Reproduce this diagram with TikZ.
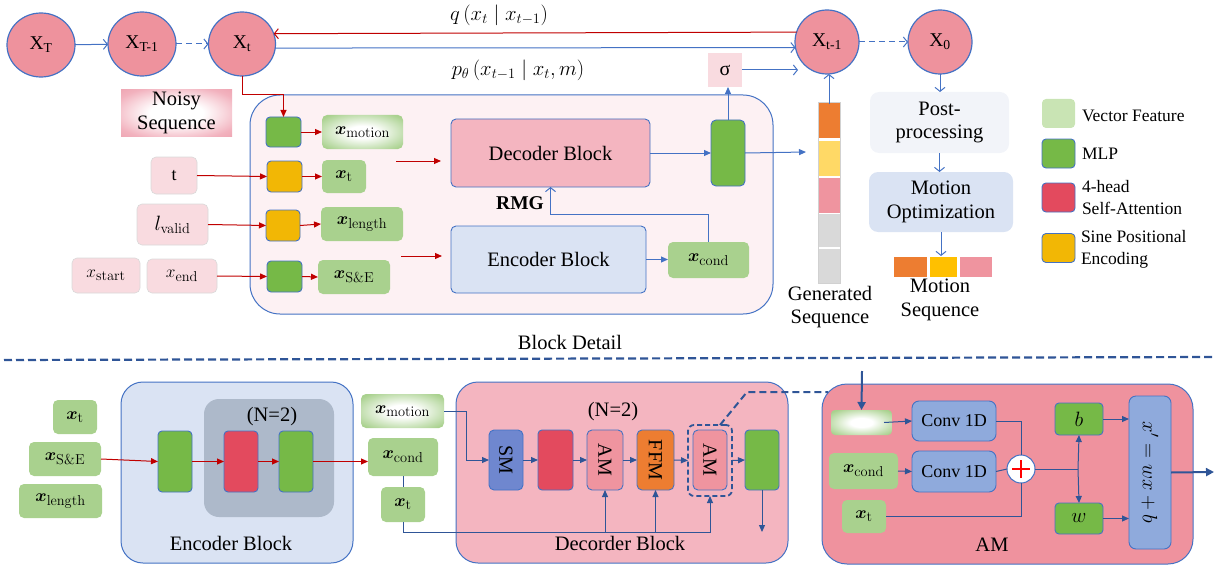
\documentclass[tikz,border=0pt]{standalone}
\usepackage{amsmath}
\usepackage[no-math]{fontspec}
\setmainfont{Liberation Serif}
\usetikzlibrary{arrows.meta,shapes.geometric,calc}
\newcommand\fsz[2]{\fontsize{#1}{#2}\selectfont}
\DeclareMathSizes{18}{18}{14}{11}
\DeclareMathSizes{20}{20}{14.5}{11}
\definecolor{bord}{HTML}{4472C4}
\definecolor{dblue}{HTML}{2F5597}
\definecolor{redc}{HTML}{C00000}
\definecolor{circpink}{HTML}{EE929D}
\definecolor{lpink}{HTML}{F9DBE0}
\definecolor{rmgfill}{HTML}{FDF1F3}
\definecolor{decfill}{HTML}{F4B5C0}
\definecolor{encfill}{HTML}{DAE3F3}
\definecolor{featg}{HTML}{A9D18E}
\definecolor{legg}{HTML}{C9E4B4}
\definecolor{mlpg}{HTML}{76B947}
\definecolor{speY}{HTML}{F2B705}
\definecolor{saR}{HTML}{E34A5E}
\definecolor{orng}{HTML}{ED7D31}
\definecolor{gyel}{HTML}{FFD966}
\definecolor{myel}{HTML}{FFC000}
\definecolor{gpink}{HTML}{EF949F}
\definecolor{ggray}{HTML}{D9D9D9}
\definecolor{convb}{HTML}{8FAADC}
\definecolor{smb}{HTML}{6F87CF}
\definecolor{innerenc}{HTML}{ADB9CA}
\definecolor{amfill}{HTML}{EF929E}
\definecolor{postfill}{HTML}{F2F4F9}
\pgfdeclareradialshading{noisyshade}{\pgfpoint{0bp}{0bp}}{color(0bp)=(white); color(12bp)=(white); color(30bp)=(rgb,255:red,242;green,178;blue,190); color(50bp)=(rgb,255:red,231;green,140;blue,156); color(70bp)=(rgb,255:red,228;green,134;blue,150)}
\pgfdeclareradialshading{featshade}{\pgfpoint{0bp}{0bp}}{color(0bp)=(white); color(9bp)=(white); color(32bp)=(rgb,255:red,169;green,209;blue,142); color(70bp)=(rgb,255:red,169;green,209;blue,142)}
\tikzset{
 sz/.style 2 args={minimum width=#1pt, minimum height=#2pt},
 circ/.style={ellipse, draw=bord, fill=circpink, line width=1.2pt, font=\fsz{19.5}{22}},
 pinkbox/.style={rounded corners=5pt, draw=black!15, fill=lpink, line width=0.6pt, font=\fsz{18}{21}},
 feat/.style={rounded corners=5pt, fill=featg, font=\fsz{18}{21}},
 featsh/.style={rounded corners=5pt, shading=featshade, font=\fsz{18}{21}},
 mlp/.style={rounded corners=4pt, fill=mlpg, draw=bord, line width=0.9pt},
 spe/.style={rounded corners=4pt, fill=speY, draw=bord, line width=0.9pt},
 sa/.style={rounded corners=4pt, fill=saR, draw=bord, line width=0.9pt},
 blk/.style={rounded corners=5pt, draw=bord, line width=0.9pt, font=\fsz{20.5}{23}},
 bigbox/.style={rounded corners=#1, draw=bord, line width=1pt},
 lbl/.style={font=\fsz{20.5}{23.5}, align=center},
 ddash/.style={dash pattern=on 6pt off 4pt},
 oarrow/.style={draw=bord, line width=1pt, -{Straight Barb[length=4pt,width=10pt]}},
 farrow/.style={draw=bord, line width=1pt, -{Triangle[length=7pt,width=6pt]}},
 rarrow/.style={draw=redc, line width=1pt, -{Triangle[length=7pt,width=6pt]}},
 darrow/.style={draw=dblue, line width=1pt, -{Triangle[length=7pt,width=6pt]}},
 tarrow/.style={draw=dblue, line width=2pt, -{Triangle[length=8pt,width=8pt]}},
 seg/.style={draw=white, line width=0.8pt},
}
\begin{document}
\begin{tikzpicture}[x=1pt,y=-1pt, every node/.style={inner sep=0pt, outer sep=0pt}]
\useasboundingbox (0,0) rectangle (1217,567);

% ---------------- top diffusion chain ----------------
\node[circ,sz={68}{64}] (XT) at (41,45) {X\textsubscript{T}};
\node[circ,sz={68}{64}] (XT1) at (142,44) {X\textsubscript{T-1}};
\node[circ,sz={67}{64}] (Xt) at (242,44) {X\textsubscript{t}};
\node[circ,sz={64}{64}] (Xt1) at (827,42) {X\textsubscript{t-1}};
\node[circ,sz={64}{64}] (X0) at (940,42) {X\textsubscript{0}};
\draw[oarrow] (XT) -- (XT1);
\draw[oarrow, ddash] (XT1) -- (Xt);
\draw[oarrow, draw=redc] (Xt1.162) -- (Xt.18);
\draw[oarrow] (Xt.-7) -- (Xt1.-170);
\draw[oarrow, ddash] (Xt1) -- (X0);
\node[font=\fsz{21}{24}] (qlab) at (499,15) {$q\left(x_t \mid x_{t-1}\right)$};
\node[font=\fsz{21}{24}] (plab) at (518,70) {$p_\theta\left(x_{t-1} \mid x_t, m\right)$};

\node[fill=lpink, sz={34}{34}, font=\fsz{20}{23}] (sigma) at (725,70) {σ};
\coordinate (sigtip) at (798,70);
\draw[oarrow] (sigma.east) -- (sigtip);

\node[shading=noisyshade, sz={111}{46}, lbl] (noisy) at (176.5,113) {Noisy\\Sequence};

% ---------------- RMG block ----------------
\node[bigbox=30pt, fill=rmgfill, sz={523}{219}] (rmg) at (511.5,204.5) {};

\node[mlp, sz={35}{30}] (m1) at (283.5,132) {};
\node[featsh, sz={81}{34}] (fm) at (362.5,132) {$\boldsymbol{x}_{\mathrm{motion}}$};
\node[spe, sz={35}{31}] (y1) at (284.5,176.5) {};
\node[feat, sz={44}{33}] (ft) at (344,176.5) {$\boldsymbol{x}_{\mathrm{t}}$};
\node[spe, sz={34}{31}] (y2) at (283,225.5) {};
\node[feat, sz={82}{34}] (fl) at (362,224) {$\boldsymbol{x}_{\mathrm{length}}$};
\node[mlp, sz={35}{31}] (m2) at (284.5,276.5) {};
\node[feat, sz={72}{34}] (fse) at (354,277) {$\boldsymbol{x}_{\mathrm{S\&E}}$};

\node[pinkbox, sz={46}{37}] (tin) at (174,175.5) {t};
\node[pinkbox, sz={71}{41}, font=\fsz{20}{23}] (lin) at (172.5,224.5) {$l_{\mathrm{valid}}$};
\node[pinkbox, sz={68}{35}] (xs) at (106,275.5) {$x_{\mathrm{start}}$};
\node[pinkbox, sz={70}{34}] (xe) at (182,276) {$x_{\mathrm{end}}$};

\draw[rarrow] (Xt.south) -- ++(0,19) -| (m1.north);
\draw[rarrow] (tin.east) -- (y1.west);
\draw[rarrow] (lin.east) -- (y2.west);
\draw[rarrow] (xe.east) -- (m2.west);
\draw[rarrow] (m1.east) -- (fm.west);
\draw[rarrow] (y1.east) -- (ft.west);
\draw[rarrow] (y2.east) -- (fl.west);
\draw[rarrow] (m2.east) -- (fse.west);

\node[blk, fill=decfill, sz={199}{68}] (dec) at (550.5,153) {Decoder Block};
\node[blk, fill=encfill, sz={195}{67}] (enc) at (548.5,259.5) {Encoder Block};
\node[feat, sz={81}{36}] (xcond) at (708.5,260) {$\boldsymbol{x}_{\mathrm{cond}}$};
\node[mlp, rounded corners=5pt, sz={34}{66}] (bigmlp) at (728,153) {};
\node[font=\bfseries\fsz{19.5}{22}] (rmglab) at (520,203) {RMG};

\coordinate (ra1) at (396,161);
\coordinate (rb1) at (441,161);
\coordinate (ra2) at (401,256);
\coordinate (rb2) at (442,256);
\draw[rarrow] (ra1) -- (rb1);
\draw[rarrow] (ra2) -- (rb2);

\draw[farrow] (dec.east) -- (bigmlp.west);
\draw[farrow] (enc.east) -- (enc.east -| xcond.west);
\draw[oarrow] (xcond.north) -- ++(0,-28) -| (dec.south);
\draw[farrow] (bigmlp.north) -- (bigmlp.north |- sigma.south);
\coordinate (gtip) at (806,152);
\draw[farrow] (bigmlp.east) -- (gtip);

% generated sequence
\node[seg, fill=orng, sz={22}{36}] (g1) at (829,120) {};
\node[seg, fill=gyel, sz={22}{36}] (g2) at (829,158) {};
\node[seg, fill=gpink, sz={22}{36}] (g3) at (829,195) {};
\node[seg, fill=ggray, sz={22}{34}] (g4) at (829,230.5) {};
\node[seg, fill=ggray, sz={22}{35}] (g5) at (829,265.5) {};
\draw[black!18, line width=0.8pt] (g1.north west) rectangle (g5.south east);
\draw[oarrow] ([yshift=-2pt]g1.north) -- (g1.north |- Xt1.south);
\node[lbl] (genlab) at (830,307) {Generated\\Sequence};

\node[lbl] (bdlab) at (570,342) {Block Detail};

% post processing
\node[rounded corners=9pt, fill=postfill, sz={139}{61}, lbl] (post) at (939.5,122.5) {Post-\\processing};
\node[rounded corners=9pt, fill=encfill, sz={144}{60}, lbl] (mo) at (941,202) {Motion\\Optimization};
\node[seg, fill=orng, sz={34}{21}] (ms1) at (910,266.5) {};
\node[seg, fill=myel, sz={28}{21}] (ms2) at (943,266.5) {};
\node[seg, fill=gpink, sz={33}{21}] (ms3) at (975.5,266.5) {};
\node[lbl] (mslab) at (940,300) {Motion\\Sequence};
\draw[oarrow] (X0.south) -- (X0.south |- post.north);
\draw[oarrow] (post.south) -- (post.south |- mo.north);
\draw[oarrow] (mo.south) -- (mo.south |- ms2.north);

% legend
\node[rounded corners=4pt, fill=legg, sz={33}{29}] (lv) at (1058.5,113.5) {};
\node[mlp, sz={33}{29}] (lm) at (1058.5,153.5) {};
\node[sa, sz={33}{29}] (ls) at (1058.5,197.5) {};
\node[spe, sz={33}{29}] (lp) at (1058.5,248) {};
\node[anchor=west, font=\fsz{17.5}{22}, align=left] (lvt) at (1082,116) {Vector Feature};
\node[anchor=west, font=\fsz{17.5}{22}, align=left] (lmt) at (1082,154) {MLP};
\node[anchor=west, font=\fsz{17.5}{22}, align=left] (lst) at (1082,198) {4-head\\Self-Attention};
\node[anchor=west, font=\fsz{17.5}{22}, align=left] (lpt) at (1081,249) {Sine Positional\\Encoding};

% separator
\draw[dblue, line width=2.2pt, dash pattern=on 8pt off 4pt] (4,360) -- (1215,357);

% ---------------- bottom: encoder ----------------
\node[feat, sz={44}{34}] (bxt) at (75,417) {$\boldsymbol{x}_{\mathrm{t}}$};
\node[feat, sz={72}{34}] (bxse) at (65,459) {$\boldsymbol{x}_{\mathrm{S\&E}}$};
\node[feat, sz={83}{34}] (bxl) at (60.5,501) {$\boldsymbol{x}_{\mathrm{length}}$};

\node[bigbox=22pt, fill=encfill, sz={232}{181}] (encB) at (237,472.5) {};
\node[rounded corners=15pt, fill=innerenc, sz={130}{118}] (inner) at (269,458) {};
\node[lbl] (n1) at (272,417) {(N=2)};
\node[lbl] (enclab) at (231,543) {Encoder Block};
\node[mlp, sz={34}{61}] (eg1) at (175,461.5) {};
\node[sa, sz={34}{61}] (er) at (241,461.5) {};
\node[mlp, sz={34}{61}] (eg2) at (296,461.5) {};

\node[featsh, sz={83}{34}] (bxm) at (402.5,411) {$\boldsymbol{x}_{\mathrm{motion}}$};
\node[feat, sz={70}{38}] (bxc) at (403,457) {$\boldsymbol{x}_{\mathrm{cond}}$};
\node[feat, sz={44}{35}] (bxt2) at (403,504.5) {$\boldsymbol{x}_{\mathrm{t}}$};

\draw[rarrow] (bxse.east) -- (eg1.west);
\draw[rarrow] (eg1.east) -- (er.west);
\draw[rarrow] (er.east) -- (eg2.west);
\draw[rarrow] (eg2.east) -- (eg2.east -| bxc.west);

% ---------------- bottom: decoder ----------------
\node[bigbox=22pt, fill=decfill, sz={332}{181}] (decB) at (622,472.5) {};
\node[lbl] (n2) at (613,412) {(N=2)};
\node[lbl] (declab) at (620,543) {Decorder Block};
\node[blk, fill=smb, sz={34}{60}] (SM) at (506,460) {};
\node[rotate=-90, font=\fsz{20}{23}] (SMt) at (SM) {SM};
\node[sa, sz={35}{60}] (dr) at (555.5,460) {};
\node[blk, fill=gpink, sz={36}{60}] (AM1) at (605,460) {};
\node[rotate=-90, font=\fsz{20}{23}] (AM1t) at (AM1) {AM};
\node[blk, fill=orng, sz={37}{60}] (FFM) at (655.5,460) {};
\node[rotate=-90, font=\fsz{20}{23}] (FFMt) at (FFM) {FFM};
\node[blk, fill=gpink, sz={34}{60}] (AM2) at (710,460) {};
\node[rotate=-90, font=\fsz{20}{23}] (AM2t) at (AM2) {AM};
\node[rounded corners=6pt, draw=dblue, line width=1.8pt, dash pattern=on 5pt off 3pt, sz={44}{71}] (dbox) at (710,460.5) {};
\node[mlp, sz={34}{60}] (dg) at (762,460) {};

\draw[darrow] (bxm.east) -- ++(22,0) |- (SM.west);
\draw[darrow] (SM.east) -- (dr.west);
\draw[darrow] (dr.east) -- (AM1.west);
\draw[darrow] (AM1.east) -- (FFM.west);
\draw[darrow] (FFM.east) -- (dbox.west);
\draw[darrow] (dbox.east) -- (dg.west);
\draw[darrow] (dg.south) -- ++(0,42);

\coordinate (busL) at (403,532);
\draw[dblue, line width=1pt] (bxc.south) -- (bxt2.north);
\draw[darrow] (bxt2.south) -- (busL) -| (dbox.south);
\draw[darrow] (AM1.south |- busL) -- (AM1.south);
\draw[darrow] (FFM.south |- busL) -- (FFM.south);

% ---------------- bottom: AM detail ----------------
\node[bigbox=25pt, fill=amfill, sz={371}{180}] (AM) at (1007.5,474) {};
\node[lbl] (amlab) at (992,545) {AM};
\coordinate (dk) at (747,392);
\draw[dblue, line width=2pt, dash pattern=on 7pt off 4pt] ([xshift=10pt]dbox.north) -- (dk) -- ([xshift=6pt]AM.west |- dk);

\node[rounded corners=4pt, shading=featshade, sz={61}{25}] (agf) at (861.5,422.5) {};
\node[blk, fill=convb, rounded corners=7pt, font=\fsz{18}{21}, sz={84}{40}] (c1) at (954,421) {Conv 1D};
\node[feat, sz={69}{36}] (acx) at (863.5,471) {$\boldsymbol{x}_{\mathrm{cond}}$};
\node[blk, fill=convb, rounded corners=7pt, font=\fsz{18}{21}, sz={84}{41}] (c2) at (954,471.5) {Conv 1D};
\node[feat, sz={44}{33}] (axt) at (864,516.5) {$\boldsymbol{x}_{\mathrm{t}}$};
\node[circle, draw=bord, fill=white, line width=1pt, minimum size=28pt,
  path picture={\draw[red, line width=1.2pt]
    ([xshift=-9pt]path picture bounding box.center) -- ([xshift=9pt]path picture bounding box.center)
    ([yshift=-9pt]path picture bounding box.center) -- ([yshift=9pt]path picture bounding box.center);}] (plus) at (1021,469) {};
\node[mlp, font=\fsz{21}{23}, sz={48}{32}] (bb) at (1079,419) {$b$};
\node[mlp, font=\fsz{21}{23}, sz={48}{31}] (ww) at (1079,518.5) {$w$};
\node[blk, fill=convb, rounded corners=7pt, sz={42}{153}] (form) at (1150,472.5) {};
\node[rotate=-90, font=\fsz{21.5}{24}] (formt) at (form) {$x' = wx + b$};

\coordinate (amtop) at (862,371);
\draw[tarrow] (amtop) -- (agf.north);
\draw[darrow] ([xshift=-8pt]agf.east) -- (c1.west);
\draw[darrow] (acx.east) -- (c2.west);
\draw[dblue, line width=1pt] (c1.east) -| (plus.north);
\draw[dblue, line width=1pt] (c2.east) -- (plus.west);
\draw[dblue, line width=1pt] (axt.east) -| (plus.south);
\coordinate (br) at (1078,469);
\draw[dblue, line width=1pt] (plus.east) -- (br);
\draw[darrow] (br) -- (bb.south);
\draw[darrow] (br) -- (ww.north);
\draw[darrow] (bb.east) -- (bb.east -| form.west);
\draw[darrow] (ww.east) -- (ww.east -| form.west);
\coordinate (outp) at (1214,472);
\draw[tarrow] (form.east) -- (outp);
\end{tikzpicture}
\end{document}
